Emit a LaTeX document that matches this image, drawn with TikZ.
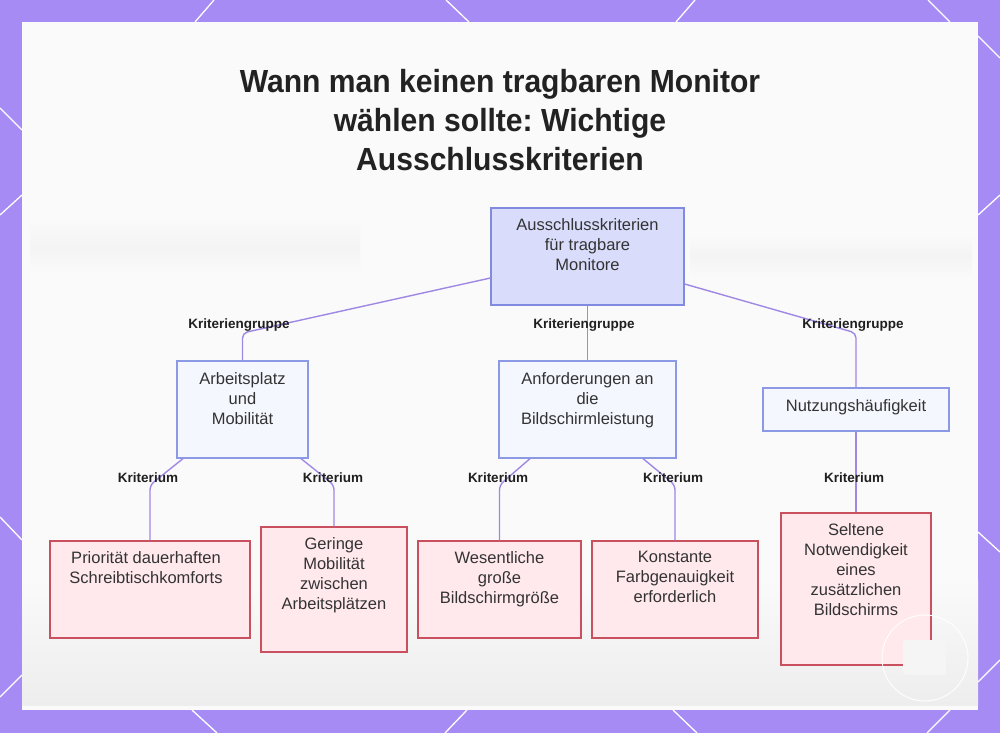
\documentclass[tikz,border=0pt]{standalone}
\usepackage{fontspec}
\setmainfont{Liberation Sans}
\newfontfamily\titlefont[FakeStretch=0.94]{Liberation Sans}
\usetikzlibrary{calc}
\frenchspacing
\definecolor{bordpurple}{HTML}{A68BF5}
\definecolor{panelbg}{HTML}{FAFAFB}
\definecolor{rootfill}{HTML}{D9DCFB}
\definecolor{rootborder}{HTML}{7F8AE0}
\definecolor{grpfill}{HTML}{F5F7FE}
\definecolor{grpborder}{HTML}{8C9AE6}
\definecolor{critfill}{HTML}{FFE9ED}
\definecolor{critborder}{HTML}{C9505F}
\definecolor{edgepurple}{HTML}{9F88E4}
\definecolor{textgray}{HTML}{333333}
\definecolor{titleblack}{HTML}{222222}
\begin{document}
\begin{tikzpicture}[x=1pt,y=-1pt,
  rootbox/.style={draw=rootborder, fill=rootfill, line width=1.2pt, rectangle, inner sep=0pt},
  grpbox/.style={draw=grpborder, fill=grpfill, line width=1.2pt, rectangle, inner sep=0pt},
  critbox/.style={draw=critborder, fill=critfill, line width=1.2pt, rectangle, inner sep=0pt},
  boxtext/.style={anchor=north, inner sep=0pt, align=center, text=textgray, font=\fontsize{16.5}{20}\selectfont},
  lbl/.style={font=\fontsize{13.5}{16}\selectfont\bfseries, text=black!88, inner sep=1pt},
  conn/.style={draw=edgepurple, line width=1.4pt, rounded corners=5pt},
  deco/.style={draw=white, line width=1.3pt}]
\useasboundingbox (0,0) rectangle (1000,733);
% border background
\fill[bordpurple] (0,0) rectangle (1000,733);
\draw[deco] (195,22) -- (214,0);
\draw[deco] (446,0) -- (469,22);
\draw[deco] (676,22) -- (695,0);
\draw[deco] (928,0) -- (950,22);
\draw[deco] (192,710) -- (217,733);
\draw[deco] (467,710) -- (445,733);
\draw[deco] (673,710) -- (697,733);
\draw[deco] (950,710) -- (927,733);
\draw[deco] (0,108) -- (22,130);
\draw[deco] (0,215) -- (22,195);
\draw[deco] (0,517) -- (22,540);
\draw[deco] (0,697) -- (22,675);
\draw[deco] (978,36) -- (1000,58);
\draw[deco] (978,215) -- (1000,195);
\draw[deco] (978,532) -- (1000,552);
\draw[deco] (978,682) -- (1000,660);
% panel
\fill[panelbg] (22,22) rectangle (978,710);
\shade[top color=panelbg, bottom color=panelbg, middle color=black!7, opacity=0.45] (30,222) rectangle (360,272);
\shade[top color=panelbg, bottom color=panelbg, middle color=black!7, opacity=0.45] (690,236) rectangle (972,276);
\shade[top color=panelbg, bottom color=black!7] (22,580) rectangle (978,705);
% title
\node[anchor=north, align=center, inner sep=0pt, text=titleblack,
  font=\titlefont\bfseries\fontsize{32}{39}\selectfont] (title) at (500,69)
  {Wann man keinen tragbaren Monitor\\wählen sollte: Wichtige\\Ausschlusskriterien};
% boxes
\node[rootbox, minimum width=193pt, minimum height=97pt] (root) at (587.5,256.5) {};
\node[grpbox, minimum width=131pt, minimum height=97pt] (arb) at (242.5,409.5) {};
\node[grpbox, minimum width=177pt, minimum height=97pt] (anf) at (587.5,409.5) {};
\node[grpbox, minimum width=186pt, minimum height=43pt] (nutz) at (856,409.5) {};
\node[critbox, minimum width=200pt, minimum height=97pt] (prio) at (150,589.5) {};
\node[critbox, minimum width=146pt, minimum height=125pt] (ger) at (334,589.5) {};
\node[critbox, minimum width=163pt, minimum height=97pt] (wes) at (499.5,589.5) {};
\node[critbox, minimum width=166pt, minimum height=97pt] (kon) at (675,589.5) {};
\node[critbox, minimum width=150pt, minimum height=152pt] (sel) at (856,589) {};
% box texts
\node[boxtext] (roott) at ([yshift=-11pt]root.north) {Ausschlusskriterien\\für tragbare\\Monitore};
\node[boxtext] (arbt) at ([yshift=-11.5pt]arb.north) {Arbeitsplatz\\und\\Mobilität};
\node[boxtext] (anft) at ([yshift=-11.5pt]anf.north) {Anforderungen an\\die\\Bildschirmleistung};
\node[boxtext] (nutzt) at ([yshift=-12pt]nutz.north) {Nutzungshäufigkeit};
\node[boxtext] (priot) at ([xshift=-4pt,yshift=-11pt]prio.north) {Priorität dauerhaften\\Schreibtischkomforts};
\node[boxtext] (gert) at ([yshift=-11pt]ger.north) {Geringe\\Mobilität\\zwischen\\Arbeitsplätzen};
\node[boxtext] (west) at ([yshift=-11pt]wes.north) {Wesentliche\\große\\Bildschirmgröße};
\node[boxtext] (kont) at ([yshift=-11pt]kon.north) {Konstante\\Farbgenauigkeit\\erforderlich};
\node[boxtext] (selt) at ([yshift=-11pt]sel.north) {Seltene\\Notwendigkeit\\eines\\zusätzlichen\\Bildschirms};
% connectors
\draw[conn] ([yshift=-21.5pt]root.west) -- (242.5,333) -- (arb.north);
\draw[conn] (root.south) -- (anf.north);
\draw[conn] ([yshift=-27.5pt]root.east) -- (856,333) -- (nutz.north);
\draw[conn] ([xshift=-59.5pt]arb.south) -- (150,485) -- (prio.north);
\draw[conn] ([xshift=58.5pt]arb.south) -- (334,485) -- (ger.north);
\draw[conn] ([xshift=-57.5pt]anf.south) -- (499.5,485) -- (wes.north);
\draw[conn] ([xshift=55.5pt]anf.south) -- (675,485) -- (kon.north);
\draw[conn] (nutz.south) -- (sel.north);
% labels
\node[lbl] (l1) at (239,325) {Kriteriengruppe};
\node[lbl] (l2) at (584,325) {Kriteriengruppe};
\node[lbl] (l3) at (853,325) {Kriteriengruppe};
\node[lbl] (l4) at (148,478) {Kriterium};
\node[lbl] (l5) at (333,478) {Kriterium};
\node[lbl] (l6) at (498,478) {Kriterium};
\node[lbl] (l7) at (673,478) {Kriterium};
\node[lbl] (l8) at (854,478) {Kriterium};
% watermark
\draw[white, line width=0.9pt] (925,658) circle (43);
\fill[black!4, rounded corners=3pt] (903,640) rectangle (946,675);
\end{tikzpicture}
\end{document}
